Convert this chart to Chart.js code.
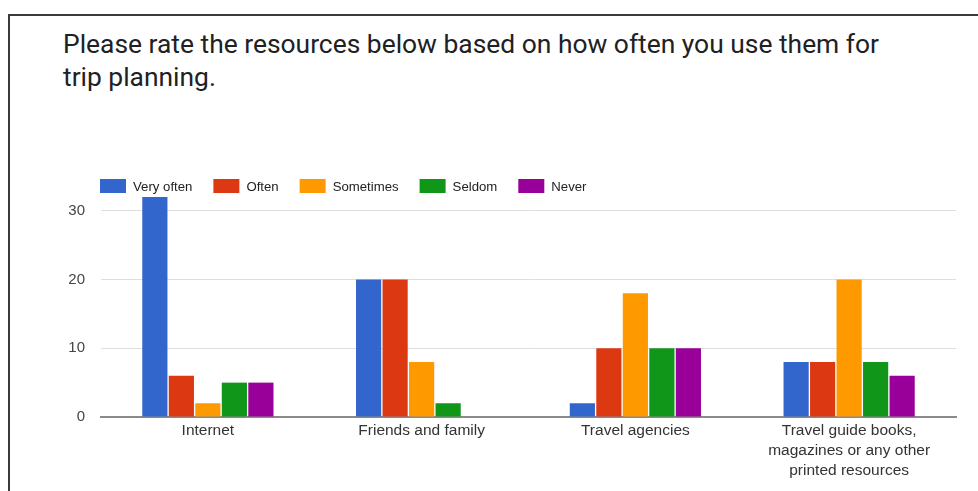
<!DOCTYPE html>
<html>
<head>
<meta charset="utf-8">
<script src="https://cdn.jsdelivr.net/npm/chart.js@4/dist/chart.umd.min.js"></script>
<style>
  html, body { margin: 0; padding: 0; background: #fff; }
  #wrap { position: relative; width: 978px; height: 491px; overflow: hidden; }
  #frame { position: absolute; left: 8px; top: 14px; width: 1000px; height: 500px;
           border-top: 2px solid #3a3a3a; border-left: 2px solid #3a3a3a; }
  #title { position: absolute; left: 63px; top: 28px; font-family: Roboto, sans-serif;
           font-size: 26.4px; line-height: 33px; color: #202124; white-space: pre; }
  #chart { position: absolute; left: 0; top: 0; }
</style>
</head>
<body>
<div id="wrap">
  <div id="frame"></div>
  <div id="title">Please rate the resources below based on how often you use them for
trip planning.</div>
  <canvas id="chart" width="978" height="491"></canvas>
</div>
<script>
const categories = [
    'Internet',
    'Friends and family',
    'Travel agencies',
    ['Travel guide books,', 'magazines or any other', 'printed resources']
];
const seriesNames = ['Very often', 'Often', 'Sometimes', 'Seldom', 'Never'];
const veryOften = [32, 20, 2, 8];
const often = [6, 20, 10, 8];
const sometimes = [2, 8, 18, 20];
const seldom = [5, 2, 10, 8];
const never = [5, 0, 10, 6];
const yTicks = [0, 10, 20, 30];

const colors = ['#3366cc', '#dc3912', '#ff9900', '#109618', '#990099'];
const values = [veryOften, often, sometimes, seldom, never];
const fontFamily = '"Liberation Sans", Arial, sans-serif';

// legend drawn by hand so it sits left-aligned over the plot like the original
const legendPlugin = {
    id: 'leftLegend',
    afterDraw(chart) {
        const c = chart.ctx;
        let x = 100;
        const y = 186;
        c.save();
        c.font = '13.2px ' + fontFamily;
        c.textBaseline = 'middle';
        chart.data.datasets.forEach(function (ds) {
            c.fillStyle = ds.backgroundColor;
            c.fillRect(x, y - 7, 26, 14);
            c.fillStyle = '#222';
            c.fillText(ds.label, x + 33, y + 1);
            x += 33 + c.measureText(ds.label).width + 21;
        });
        c.restore();
    }
};

new Chart(document.getElementById('chart'), {
    type: 'bar',
    data: {
        labels: categories,
        datasets: seriesNames.map(function (name, i) {
            return {
                label: name,
                data: values[i],
                backgroundColor: colors[i],
                borderWidth: 0,
                categoryPercentage: 0.62,
                barPercentage: 0.95
            };
        })
    },
    options: {
        responsive: false,
        animation: false,
        layout: {
            padding: { top: 197, right: 22, bottom: 0, left: 60 }
        },
        scales: {
            x: {
                grid: { display: false, drawTicks: false },
                border: { display: true, color: '#8a8a8a', width: 2 },
                ticks: {
                    padding: 4,
                    color: '#333',
                    font: { family: fontFamily, size: 15.5, lineHeight: 1.29 },
                    maxRotation: 0,
                    autoSkip: false
                },
                afterFit: function (scale) { scale.height = 74; }
            },
            y: {
                min: 0,
                max: 32,
                border: { display: false },
                grid: { color: '#dedede', drawTicks: false },
                afterBuildTicks: function (scale) {
                    scale.ticks = yTicks.map(function (v) { return { value: v }; });
                },
                ticks: {
                    padding: 16,
                    color: '#444',
                    font: { family: fontFamily, size: 15 }
                },
                afterFit: function (scale) { scale.width = 41; }
            }
        },
        plugins: {
            legend: { display: false },
            title: { display: false },
            tooltip: { enabled: false }
        }
    },
    plugins: [legendPlugin]
});
</script>
</body>
</html>
